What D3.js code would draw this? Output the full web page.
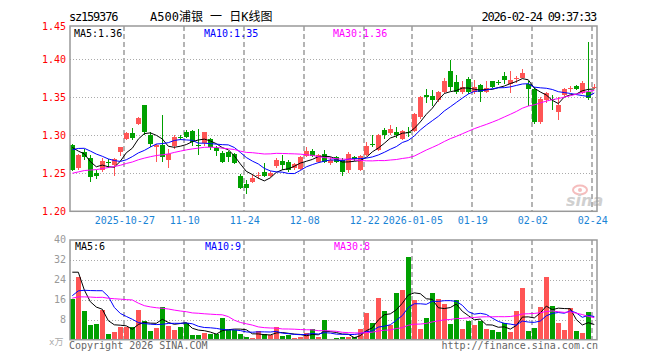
<!DOCTYPE html>
<html>

<head>
  <meta charset="utf-8" />
  <script src="https://d3js.org/d3.v7.min.js"></script>
  <style>
    body { margin: 0; background: #fff; }
    text { font-family: "DejaVu Sans Mono", monospace; font-size: 10px; }
  </style>
</head>

<body>
  <svg id="chart" width="660" height="360"></svg>

  <script>
    // daily OHLC (88 trading days, 2025-10-14 .. 2026-02-24)
    const open = [1.287, 1.257, 1.278, 1.270, 1.250, 1.255, 1.265, 1.261, 1.278, 1.295,
      1.303, 1.315, 1.340, 1.300, 1.285, 1.287, 1.267, 1.286, 1.298, 1.304,
      1.306, 1.287, 1.290, 1.295, 1.283, 1.277, 1.278, 1.276, 1.246, 1.236,
      1.239, 1.246, 1.252, 1.247, 1.259, 1.266, 1.265, 1.257, 1.256, 1.273,
      1.279, 1.265, 1.275, 1.264, 1.271, 1.268, 1.255, 1.271, 1.254, 1.274,
      1.289, 1.281, 1.307, 1.303, 1.304, 1.295, 1.304, 1.306, 1.324, 1.353,
      1.352, 1.346, 1.357, 1.385, 1.370, 1.357, 1.374, 1.357, 1.366, 1.357,
      1.371, 1.370, 1.378, 1.368, 1.375, 1.376, 1.367, 1.361, 1.317, 1.346,
      1.348, 1.331, 1.353, 1.361, 1.365, 1.356, 1.357, 1.363];
    const high = [1.289, 1.275, 1.282, 1.274, 1.255, 1.270, 1.269, 1.270, 1.284, 1.304,
      1.309, 1.324, 1.340, 1.304, 1.288, 1.327, 1.282, 1.300, 1.301, 1.307,
      1.307, 1.308, 1.305, 1.296, 1.286, 1.279, 1.280, 1.277, 1.249, 1.241,
      1.249, 1.252, 1.264, 1.253, 1.270, 1.274, 1.267, 1.263, 1.273, 1.285,
      1.282, 1.275, 1.281, 1.272, 1.273, 1.270, 1.278, 1.273, 1.274, 1.291,
      1.300, 1.302, 1.309, 1.314, 1.311, 1.307, 1.311, 1.329, 1.352, 1.361,
      1.360, 1.358, 1.375, 1.399, 1.380, 1.371, 1.377, 1.373, 1.368, 1.371,
      1.372, 1.373, 1.383, 1.384, 1.378, 1.387, 1.371, 1.364, 1.351, 1.357,
      1.353, 1.351, 1.362, 1.365, 1.366, 1.371, 1.423, 1.367];
    const low = [1.253, 1.255, 1.268, 1.238, 1.242, 1.252, 1.257, 1.246, 1.273, 1.294,
      1.294, 1.313, 1.300, 1.285, 1.265, 1.265, 1.257, 1.282, 1.294, 1.296,
      1.286, 1.274, 1.286, 1.281, 1.273, 1.263, 1.265, 1.262, 1.229, 1.223,
      1.237, 1.243, 1.245, 1.245, 1.257, 1.255, 1.252, 1.255, 1.254, 1.271,
      1.272, 1.264, 1.263, 1.261, 1.264, 1.247, 1.251, 1.266, 1.253, 1.273,
      1.285, 1.279, 1.295, 1.300, 1.297, 1.294, 1.298, 1.305, 1.322, 1.343,
      1.338, 1.344, 1.356, 1.358, 1.355, 1.355, 1.355, 1.355, 1.344, 1.356,
      1.362, 1.366, 1.368, 1.356, 1.369, 1.375, 1.338, 1.315, 1.315, 1.343,
      1.333, 1.320, 1.352, 1.357, 1.360, 1.355, 1.346, 1.361];
    const close = [1.255, 1.274, 1.272, 1.245, 1.247, 1.266, 1.263, 1.269, 1.284, 1.303,
      1.296, 1.323, 1.305, 1.289, 1.287, 1.272, 1.275, 1.298, 1.296, 1.298,
      1.291, 1.286, 1.304, 1.284, 1.280, 1.265, 1.272, 1.264, 1.231, 1.231,
      1.244, 1.248, 1.246, 1.251, 1.267, 1.261, 1.255, 1.262, 1.272, 1.279,
      1.273, 1.274, 1.265, 1.268, 1.265, 1.252, 1.275, 1.269, 1.273, 1.286,
      1.288, 1.300, 1.300, 1.308, 1.300, 1.306, 1.303, 1.328, 1.351, 1.350,
      1.346, 1.357, 1.371, 1.363, 1.357, 1.363, 1.357, 1.363, 1.357, 1.362,
      1.363, 1.369, 1.373, 1.373, 1.376, 1.382, 1.361, 1.318, 1.348, 1.356,
      1.347, 1.340, 1.361, 1.362, 1.361, 1.369, 1.349, 1.364];
    // volume, unit 万
    const volume = [16.3, 25.2, 11.5, 5.9, 6.4, 11.9, 2.4, 3.2, 5.1, 5.1,
      5.1, 11.9, 7.5, 3.5, 4.8, 13.1, 5.6, 3.8, 5.1, 6.5,
      1.9, 1.9, 2.6, 2.4, 2.4, 8.8, 3.8, 3.8, 2.4, 1.1,
      0.7, 3.5, 2.4, 1.8, 5.1, 1.6, 1.9, 0.8, 1.1, 2.5,
      4.2, 1.2, 7.9, 0.3, 0.8, 1.0, 1.0, 0.9, 4.3, 10.8,
      6.7, 16.7, 11.5, 6.0, 18.8, 19.9, 33.1, 15.9, 4.3, 8.7,
      18.7, 16.3, 14.3, 6.3, 15.7, 4.3, 7.6, 6.0, 7.6, 4.3,
      3.9, 3.1, 6.8, 3.1, 11.5, 20.7, 3.6, 4.7, 13.1, 25.1,
      13.5, 6.7, 3.9, 12.7, 3.5, 2.7, 11.2, 0.3];

    // 29 sessions before the window, only used so the moving averages start where the picture does
    const priorClose = [1.221, 1.218, 1.224, 1.230, 1.226, 1.222, 1.229, 1.235, 1.231, 1.238,
      1.236, 1.240, 1.233, 1.239, 1.244, 1.241, 1.238, 1.245, 1.249, 1.252,
      1.257, 1.270, 1.281, 1.287, 1.295, 1.298, 1.290, 1.296, 1.281];
    const priorVolume = [9, 12, 8, 11, 10, 14, 9, 10, 11, 8.8,
      50, 38, 18, 15, 20, 14, 17, 16, 15, 16.2,
      6, 9, 7, 7, 12, 25.2, 47, 29.4, 17.1];

    const tickIndex = [9, 19, 29, 39, 49, 57, 67, 77, 87];
    const tickLabels = ["2025-10-27", "11-10", "11-24", "12-08", "12-22", "2026-01-05", "01-19", "02-02", "02-24"];
    const priceTicks = [1.20, 1.25, 1.30, 1.35, 1.40, 1.45];
    const volTicks = [8, 16, 24, 32, 40];
    const priceLegend = ["MA5:1.36", "MA10:1.35", "MA30:1.36"];
    const volLegend = ["MA5:6", "MA10:9", "MA30:8"];

    const up = "#ff5555", down = "#00a000";
    const maColors = ["#000000", "#0000ff", "#ff00ff"];
    const maDays = [5, 10, 30];

    const svg = d3.select("#chart");
    const left = 70, right = 597;
    const pTop = 26, pBottom = 211.3;
    const vTop = 240, vBottom = 339.7;

    const x = d3.scaleLinear().domain([0, close.length - 1]).range([72.3, 594.3]);
    const y = d3.scaleLinear().domain([1.20, 1.45]).range([211.3, 21.3]);
    const yv = d3.scaleLinear().domain([0, 40]).range([339.7, 239.7]);

    function movingAvg(prior, values, n) {
      const all = prior.concat(values);
      const p = prior.length;
      return values.map((v, i) => d3.mean(all.slice(i + p - n + 1, i + p + 1)));
    }

    // header
    svg.append("text").attr("x", 69).attr("y", 21)
      .style("font-size", "12px").style("letter-spacing", "-1.2px")
      .text("sz159376");
    svg.append("text").attr("x", 150).attr("y", 21)
      .style("font-family", "'DejaVu Sans Mono', 'Noto Sans CJK SC'").style("font-size", "12px")
      .text("A500浦银 一 日K线图");
    svg.append("text").attr("x", 596).attr("y", 21).attr("text-anchor", "end")
      .style("font-size", "12px").style("letter-spacing", "-1.2px")
      .text("2026-02-24 09:37:33");

    // grids
    const grid = svg.append("g").attr("shape-rendering", "crispEdges");
    grid.selectAll("line.h")
      .data([1.25, 1.30, 1.35, 1.40])
      .join("line")
      .attr("x1", left).attr("x2", right)
      .attr("y1", d => Math.round(y(d))).attr("y2", d => Math.round(y(d)))
      .attr("stroke", "#aaa").attr("stroke-dasharray", "1,2");
    grid.selectAll("line.hv")
      .data([8, 16, 24, 32])
      .join("line")
      .attr("x1", left).attr("x2", right)
      .attr("y1", d => Math.round(yv(d))).attr("y2", d => Math.round(yv(d)))
      .attr("stroke", "#aaa").attr("stroke-dasharray", "1,2");
    [[pTop, pBottom], [vTop, vBottom]].forEach(([t, b]) => {
      grid.append("g").selectAll("line")
        .data(tickIndex)
        .join("line")
        .attr("x1", d => Math.round(x(d) - 2)).attr("x2", d => Math.round(x(d) - 2))
        .attr("y1", t).attr("y2", b)
        .attr("stroke", "#b4b4b4").attr("stroke-width", 1.5)
        .attr("stroke-dasharray", "5,3");
    });

    // watermark
    const logo = svg.append("g").attr("opacity", 0.55);
    logo.append("ellipse").attr("cx", 580).attr("cy", 190).attr("rx", 7).attr("ry", 4.5)
      .attr("fill", "none").attr("stroke", "#e88").attr("stroke-width", 2);
    logo.append("circle").attr("cx", 580).attr("cy", 190).attr("r", 2).attr("fill", "#e88");
    logo.append("text").attr("x", 566).attr("y", 206)
      .style("font-family", "'DejaVu Sans'").style("font-size", "16px")
      .style("font-weight", "bold").style("font-style", "italic")
      .attr("fill", "#aaa").text("sina");

    // candles
    const candles = svg.append("g").attr("shape-rendering", "crispEdges")
      .selectAll("g")
      .data(close.map((c, i) => ({ i: i, o: open[i], h: high[i], l: low[i], c: c })))
      .join("g")
      .attr("fill", d => d.c >= d.o ? up : down)
      .attr("stroke", d => d.c >= d.o ? up : down);
    candles.append("line")
      .attr("x1", d => Math.round(x(d.i)) + 0.5).attr("x2", d => Math.round(x(d.i)) + 0.5)
      .attr("y1", d => y(d.h)).attr("y2", d => y(d.l));
    candles.append("rect")
      .attr("x", d => Math.round(x(d.i)) - 2)
      .attr("width", 5)
      .attr("y", d => y(Math.max(d.o, d.c)))
      .attr("height", d => Math.max(1, Math.abs(y(d.o) - y(d.c))))
      .attr("stroke", "none");

    // price moving averages
    const line = d3.line().x((d, i) => x(i)).y(d => y(d));
    maDays.forEach((n, k) => {
      svg.append("path")
        .datum(movingAvg(priorClose, close, n))
        .attr("fill", "none").attr("stroke", maColors[k]).attr("stroke-width", 1)
        .attr("d", line);
    });

    // volume bars
    svg.append("g").attr("shape-rendering", "crispEdges")
      .selectAll("rect")
      .data(volume)
      .join("rect")
      .attr("x", (d, i) => Math.round(x(i)) - 2)
      .attr("width", 5)
      .attr("y", d => yv(d))
      .attr("height", d => yv(0) - yv(d))
      .attr("fill", (d, i) => close[i] >= open[i] ? up : down);

    const vline = d3.line().x((d, i) => x(i)).y(d => yv(d));
    maDays.forEach((n, k) => {
      svg.append("path")
        .datum(movingAvg(priorVolume, volume, n))
        .attr("fill", "none").attr("stroke", maColors[k]).attr("stroke-width", 1)
        .attr("d", vline);
    });

    // frames
    svg.append("rect").attr("x", left).attr("y", pTop)
      .attr("width", right - left).attr("height", pBottom - pTop)
      .attr("fill", "none").attr("stroke", "#999").attr("stroke-width", 1.5);
    svg.append("rect").attr("x", left).attr("y", vTop)
      .attr("width", right - left).attr("height", vBottom - vTop)
      .attr("fill", "none").attr("stroke", "#999").attr("stroke-width", 1.5);

    // axes
    const pAxis = svg.append("g")
      .attr("transform", "translate(" + left + ",0)")
      .call(d3.axisLeft(y).tickValues(priceTicks).tickFormat(d3.format(".2f")).tickSize(0).tickPadding(4));
    pAxis.select(".domain").remove();
    pAxis.selectAll("text").attr("fill", "#ff0000").style("font-size", "10px")
      .style("font-family", "'DejaVu Sans Mono'");
    pAxis.selectAll(".tick").filter(d => d === 1.45)
      .attr("transform", "translate(0,27)");

    const vAxis = svg.append("g")
      .attr("transform", "translate(" + left + ",0)")
      .call(d3.axisLeft(yv).tickValues(volTicks).tickSize(0).tickPadding(4));
    vAxis.select(".domain").remove();
    vAxis.selectAll("text").attr("fill", "#999").style("font-size", "10px")
      .style("font-family", "'DejaVu Sans Mono'");

    const xAxis = svg.append("g")
      .attr("transform", "translate(-2," + pBottom + ")")
      .call(d3.axisBottom(x).tickValues(tickIndex).tickFormat((d, i) => tickLabels[i]).tickSize(0).tickPadding(6));
    xAxis.select(".domain").remove();
    xAxis.selectAll("text").attr("fill", "#1a84d6").style("font-size", "10px")
      .style("font-family", "'DejaVu Sans Mono'");

    // legends
    const legendX = [74, 204, 333];
    priceLegend.forEach((t, k) => {
      svg.append("text").attr("x", legendX[k]).attr("y", 37).attr("fill", maColors[k]).text(t);
    });
    volLegend.forEach((t, k) => {
      svg.append("text").attr("x", legendX[k] + 1).attr("y", 250).attr("fill", maColors[k]).text(t);
    });

    // footer
    svg.append("text").attr("x", 49).attr("y", 345).attr("fill", "#aaa")
      .style("font-family", "'DejaVu Sans Mono', 'Noto Sans CJK SC'").style("font-size", "9px")
      .text("x万");
    svg.append("text").attr("x", 69).attr("y", 349).attr("fill", "#666").text("Copyright 2026 SINA.COM");
    svg.append("text").attr("x", 598).attr("y", 349).attr("text-anchor", "end").attr("fill", "#666")
      .text("http://finance.sina.com.cn");
  </script>
</body>

</html>
